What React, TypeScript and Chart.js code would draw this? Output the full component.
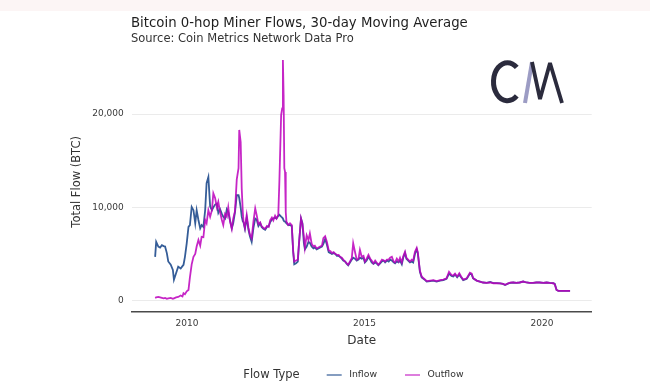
import React, { useEffect, useRef } from "react";
import { Chart, registerables } from "chart.js";

Chart.register(...registerables);

// Decimal-year dates of the 30-day moving average samples
const dates = [
  2009.10, 2009.13, 2009.19, 2009.24, 2009.29, 2009.34, 2009.38, 2009.43, 2009.47, 2009.54,
  2009.60, 2009.63, 2009.69, 2009.75, 2009.82, 2009.87, 2009.90, 2009.94, 2009.99, 2010.04,
  2010.08, 2010.13, 2010.18, 2010.23, 2010.27, 2010.32, 2010.37, 2010.41, 2010.46, 2010.51,
  2010.55, 2010.60, 2010.65, 2010.70, 2010.74, 2010.79, 2010.84, 2010.88, 2010.93, 2010.98,
  2011.02, 2011.07, 2011.12, 2011.16, 2011.21, 2011.26, 2011.30, 2011.35, 2011.40, 2011.45,
  2011.47, 2011.51, 2011.54, 2011.57, 2011.59, 2011.63, 2011.68, 2011.73, 2011.77, 2011.82,
  2011.87, 2011.92, 2011.96, 2012.01, 2012.06, 2012.10, 2012.15, 2012.20, 2012.25, 2012.30,
  2012.34, 2012.39, 2012.43, 2012.48, 2012.52, 2012.57, 2012.60, 2012.65, 2012.68, 2012.70,
  2012.72, 2012.74, 2012.76, 2012.78, 2012.80, 2012.85, 2012.90, 2012.95, 2012.99, 2013.02,
  2013.07, 2013.12, 2013.15, 2013.21, 2013.25, 2013.29, 2013.32, 2013.37, 2013.42, 2013.46,
  2013.51, 2013.56, 2013.60, 2013.65, 2013.70, 2013.75, 2013.80, 2013.84, 2013.89, 2013.94,
  2013.99, 2014.04, 2014.08, 2014.13, 2014.18, 2014.22, 2014.27, 2014.31, 2014.36, 2014.40,
  2014.45, 2014.50, 2014.54, 2014.59, 2014.64, 2014.68, 2014.73, 2014.78, 2014.83, 2014.87,
  2014.92, 2014.97, 2015.01, 2015.06, 2015.11, 2015.16, 2015.20, 2015.25, 2015.30, 2015.34,
  2015.39, 2015.44, 2015.49, 2015.54, 2015.58, 2015.63, 2015.68, 2015.72, 2015.77, 2015.82,
  2015.86, 2015.91, 2015.96, 2016.00, 2016.05, 2016.09, 2016.14, 2016.18, 2016.23, 2016.28,
  2016.33, 2016.37, 2016.42, 2016.47, 2016.50, 2016.53, 2016.56, 2016.61, 2016.66, 2016.71,
  2016.75, 2016.85, 2016.94, 2017.03, 2017.13, 2017.22, 2017.31, 2017.38, 2017.45, 2017.50,
  2017.55, 2017.61, 2017.67, 2017.72, 2017.78, 2017.88, 2017.97, 2018.02, 2018.06, 2018.16,
  2018.25, 2018.34, 2018.44, 2018.54, 2018.63, 2018.72, 2018.82, 2018.90, 2018.96, 2019.05,
  2019.12, 2019.19, 2019.28, 2019.37, 2019.47, 2019.56, 2019.65, 2019.75, 2019.84, 2019.93,
  2020.04, 2020.13, 2020.22, 2020.32, 2020.36, 2020.41, 2020.46, 2020.55, 2020.65, 2020.79,
];

const inflow = [
  4700, 6300, 5800, 5700, 5950, 5850, 5800, 5100, 4200, 3850,
  3300, 2250, 2950, 3650, 3450, 3700, 3850, 4700, 6150, 7900,
  8100, 10050, 9700, 8300, 9700, 8650, 7750, 8100, 7900, 9700,
  12600, 13250, 10100, 9700, 10000, 10300, 10400, 9400, 9800, 9300,
  9000, 8800, 9800, 9500, 8600, 7750, 8300, 9500, 11300, 11300,
  11000, 10000, 9000, 8500, 8400, 7700, 8900, 7600, 6900, 6300,
  7800, 8800, 8700, 8000, 8300, 7900, 7700, 7600, 7900, 8000,
  8400, 8700, 8800, 8900, 8800, 9100, 9200, 9000, 8900, 8800,
  8600, 8500, 8500, 8400, 8400, 8100, 8100, 8000, 5200, 3900,
  4000, 4200, 5900, 8800, 8300, 6200, 5500, 5800, 6300, 6200,
  5800, 5600, 5700, 5500, 5600, 5700, 5800, 6100, 6600, 6000,
  5200, 5100, 5000, 5100, 5000, 4800, 4800, 4700, 4500, 4300,
  4200, 3950, 3800, 4100, 4400, 4600, 4500, 4300, 4400, 4600,
  4500, 4600, 4100, 4300, 4700, 4400, 4100, 3950, 4100, 4000,
  3800, 4000, 4200, 4300, 4100, 4300, 4200, 4400, 4300, 4100,
  4000, 4200, 4100, 4300, 3900, 4600, 5100, 4500, 4300, 4100,
  4200, 4100, 5000, 5500, 5100, 4100, 3100, 2500, 2350, 2200,
  2050, 2100, 2150, 2050, 2150, 2200, 2350, 2900, 2650, 2600,
  2800, 2500, 2800, 2500, 2200, 2350, 2900, 2800, 2400, 2150,
  2050, 1950, 1900, 2000, 1880, 1880, 1850, 1800, 1680, 1850,
  1900, 1950, 1900, 1950, 2050, 1950, 1900, 1900, 1950, 1950,
  1900, 1950, 1900, 1870, 1800, 1150, 1050, 1050, 1050, 1050,
];

const outflow = [
  300, 350, 400, 350, 300, 250, 300, 200, 250, 300,
  200, 250, 350, 400, 550, 450, 800, 700, 1000, 1150,
  2500, 3900, 4700, 5000, 5800, 6500, 5900, 6850, 6800, 8650,
  8300, 9700, 9000, 9700, 11500, 11000, 10000, 10600, 9500, 8650,
  8100, 9300, 9000, 10000, 8500, 7700, 8800, 9600, 13000, 14200,
  18300, 17000, 12000, 9500, 8500, 7800, 9200, 7800, 7100, 6700,
  8500, 9900, 9200, 8200, 8400, 8000, 7800, 7700, 8000, 7900,
  8600, 8900, 8600, 9100, 8800, 9200, 12700, 19900, 20600, 25800,
  22000, 14200, 13800, 9500, 8450, 8100, 8300, 8100, 5300, 4200,
  4300, 4400, 6000, 8800, 8200, 6900, 5700, 7000, 6500, 7200,
  6100, 5800, 5900, 5600, 5700, 5800, 5900, 6700, 6900, 6300,
  5400, 5300, 5100, 5200, 5000, 4900, 4900, 4700, 4600, 4400,
  4200, 4000, 3850, 4200, 4550, 6150, 5250, 4400, 4500, 5450,
  4700, 4800, 4200, 4500, 4900, 4500, 4300, 4000, 4300, 4100,
  3850, 4100, 4400, 4300, 4200, 4400, 4400, 4600, 4700, 4200,
  4100, 4500, 4200, 4600, 4100, 4750, 5250, 4600, 4400, 4200,
  4400, 4300, 5250, 5650, 5200, 4200, 3200, 2600, 2400, 2250,
  2100, 2150, 2200, 2100, 2200, 2250, 2400, 3100, 2750, 2700,
  2900, 2600, 2950, 2600, 2250, 2400, 3000, 2900, 2400, 2150,
  2050, 1950, 1900, 1950, 1870, 1870, 1850, 1800, 1700, 1850,
  1950, 1950, 1900, 1950, 2050, 1950, 1900, 1900, 1950, 1950,
  1900, 1950, 1900, 1870, 1750, 1150, 1050, 1050, 1050, 1050,
];

const xTickYears = [2010, 2015, 2020];
const yTickValues = [0, 10000, 20000];
const seriesLabels = ["Inflow", "Outflow"];
const seriesColors = ["rgba(42,84,146,0.95)", "rgba(188,0,188,0.85)"];
const seriesOrder = [1, 0];
const legendTitle = "Flow Type";
const chartTitle = "Bitcoin 0-hop Miner Flows, 30-day Moving Average";
const chartSubtitle = "Source: Coin Metrics Network Data Pro";

const FONT = "'DejaVu Sans', Verdana, sans-serif";

const fmt = (v: number) => String(v).replace(/\B(?=(\d{3})+(?!\d))/g, ",");

const decorPlugin = {
  id: "decor",
  beforeDraw(chart: any) {
    const ctx = chart.ctx;
    ctx.save();
    ctx.fillStyle = "#ffffff";
    ctx.fillRect(0, 0, chart.width, chart.height);
    ctx.fillStyle = "#fcf5f5";
    ctx.fillRect(0, 0, chart.width, 11);
    ctx.restore();
  },
  afterDraw(chart: any) {
    const ctx = chart.ctx;
    ctx.save();
    // Titles
    ctx.textAlign = "left";
    ctx.textBaseline = "alphabetic";
    ctx.fillStyle = "#1e1e1e";
    ctx.font = `13.3px ${FONT}`;
    ctx.fillText(chartTitle, 131, 26.5);
    ctx.fillStyle = "#333333";
    ctx.font = `11.5px ${FONT}`;
    ctx.fillText(chartSubtitle, 131, 42);

    // Logo "CM"
    ctx.lineCap = "butt";
    ctx.strokeStyle = "#2b2b3d";
    ctx.lineWidth = 5;
    ctx.beginPath();
    ctx.ellipse(507.5, 81.7, 14, 19, 0, 0.27 * Math.PI, 1.73 * Math.PI);
    ctx.stroke();
    ctx.strokeStyle = "#9c9cc4";
    ctx.lineWidth = 4;
    ctx.beginPath();
    ctx.moveTo(525, 103);
    ctx.lineTo(532, 62);
    ctx.stroke();
    ctx.strokeStyle = "#2b2b3d";
    ctx.lineWidth = 3.8;
    ctx.lineJoin = "bevel";
    ctx.beginPath();
    ctx.moveTo(532, 62);
    ctx.lineTo(540, 99);
    ctx.lineTo(550, 63);
    ctx.lineTo(562, 103);
    ctx.stroke();

    // Legend
    const ly = 375;
    ctx.textBaseline = "middle";
    ctx.fillStyle = "#333333";
    ctx.font = `11.5px ${FONT}`;
    ctx.fillText(legendTitle, 243.3, ly);
    ctx.font = `9.3px ${FONT}`;
    const keyX = [326.7, 405];
    chart.data.datasets.forEach((ds: any, i: number) => {
      ctx.strokeStyle = ds.borderColor;
      ctx.globalAlpha = 0.75;
      ctx.lineWidth = 1.6;
      ctx.beginPath();
      ctx.moveTo(keyX[i], ly);
      ctx.lineTo(keyX[i] + 15, ly);
      ctx.stroke();
      ctx.globalAlpha = 1;
      ctx.fillStyle = "#333333";
      ctx.fillText(ds.label, keyX[i] + 22.5, ly);
    });
    ctx.restore();
  },
};

export default function App() {
  const ref = useRef<HTMLCanvasElement | null>(null);

  useEffect(() => {
    document.body.style.margin = "0";
    const canvas = ref.current;
    if (!canvas) return;
    const series = [inflow, outflow];
    const chart = new Chart(canvas, {
      type: "line",
      data: {
        datasets: series.map((vals, i) => ({
          label: seriesLabels[i],
          data: dates.map((d, j) => ({ x: d, y: vals[j] })),
          borderColor: seriesColors[i],
          backgroundColor: seriesColors[i],
          borderWidth: 1.8,
          pointRadius: 0,
          tension: 0,
          fill: false,
          order: seriesOrder[i],
        })),
      },
      options: {
        animation: false,
        responsive: false,
        devicePixelRatio: 1,
        events: [],
        layout: { padding: { top: 52, left: 0, right: 58.3, bottom: 0 } },
        plugins: {
          legend: { display: false },
          tooltip: { enabled: false },
          title: { display: false },
        },
        scales: {
          x: {
            type: "linear",
            min: 2008.44,
            max: 2021.4,
            afterFit: (s: any) => {
              s.height = 77.3;
            },
            afterBuildTicks: (s: any) => {
              s.ticks = xTickYears.map((v) => ({ value: v }));
            },
            ticks: {
              callback: (v: any) => String(v),
              font: { family: FONT, size: 9 },
              color: "#3a3a3a",
              padding: 7,
              maxRotation: 0,
              autoSkip: false,
            },
            grid: { display: false, drawTicks: false },
            border: { display: true, color: "#4a4a4a", width: 1.5 },
            title: {
              display: true,
              text: "Date",
              font: { family: FONT, size: 12 },
              color: "#333333",
              padding: { top: 0, bottom: 40.8 },
            },
          },
          y: {
            type: "linear",
            min: -1180,
            max: 26650,
            afterFit: (s: any) => {
              s.width = 131.7;
            },
            afterBuildTicks: (s: any) => {
              s.ticks = yTickValues.map((v) => ({ value: v }));
            },
            ticks: {
              callback: (v: any) => fmt(v),
              font: { family: FONT, size: 9 },
              color: "#3a3a3a",
              padding: 8,
            },
            grid: { color: "#ebebeb", lineWidth: 1, drawTicks: false },
            border: { display: false },
            title: {
              display: true,
              text: "Total Flow (BTC)",
              font: { family: FONT, size: 11.5 },
              color: "#333333",
              padding: { top: 70.1, bottom: 0 },
            },
          },
        },
      },
      plugins: [decorPlugin],
    } as any);
    return () => chart.destroy();
  }, []);

  return (
    <div style={{ width: 650, height: 389 }}>
      <canvas ref={ref} width={650} height={389} style={{ display: "block" }} />
    </div>
  );
}
